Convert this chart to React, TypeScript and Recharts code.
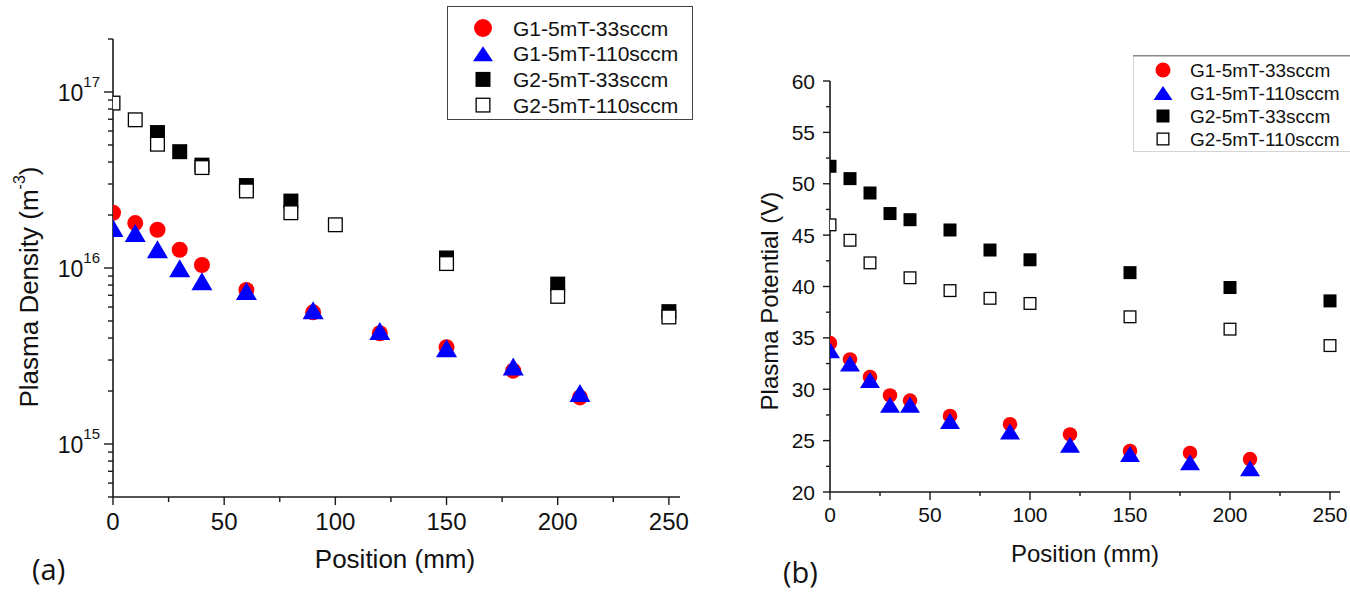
import { Legend, Scatter, ScatterChart, XAxis, YAxis } from "recharts";

const FONT = '"Liberation Sans", Arial, sans-serif';
const AXIS = "#1a1a1a";

// series (legend order)
const seriesNames = ["G1-5mT-33sccm", "G1-5mT-110sccm", "G2-5mT-33sccm", "G2-5mT-110sccm"];
const seriesMarkers = ["circle", "triangle", "square", "open"];

// positions (mm)
const g1Positions = [0, 10, 20, 30, 40, 60, 90, 120, 150, 180, 210];
const densityG2Pos33 = [20, 30, 40, 60, 80, 150, 200, 250];
const densityG2Pos110 = [0, 10, 20, 40, 60, 80, 100, 150, 200, 250];
const potentialG2Pos33 = [0, 10, 20, 30, 40, 60, 80, 100, 150, 200, 250];
const potentialG2Pos110 = [0, 10, 20, 40, 60, 80, 100, 150, 200, 250];

// (a) plasma density, m^-3
const densityG1_33 = [2.06e16, 1.8e16, 1.65e16, 1.27e16, 1.04e16, 7.5e15, 5.6e15, 4.26e15, 3.55e15, 2.61e15, 1.84e15];
const densityG1_110 = [1.69e16, 1.58e16, 1.28e16, 9.96e15, 8.4e15, 7.4e15, 5.75e15, 4.38e15, 3.5e15, 2.76e15, 1.95e15];
const densityG2_33 = [5.88e16, 4.58e16, 3.84e16, 2.94e16, 2.4e16, 1.14e16, 8.1e15, 5.65e15];
const densityG2_110 = [8.65e16, 6.95e16, 5.05e16, 3.72e16, 2.74e16, 2.06e16, 1.76e16, 1.06e16, 6.9e15, 5.27e15];

// (b) plasma potential, V
const potentialG1_33 = [34.5, 32.9, 31.2, 29.4, 28.9, 27.4, 26.6, 25.6, 24.0, 23.8, 23.2];
const potentialG1_110 = [33.8, 32.5, 30.9, 28.5, 28.5, 26.9, 25.9, 24.6, 23.7, 22.9, 22.3];
const potentialG2_33 = [51.7, 50.5, 49.1, 47.1, 46.5, 45.5, 43.55, 42.6, 41.35, 39.9, 38.6];
const potentialG2_110 = [46.0, 44.5, 42.3, 40.85, 39.6, 38.85, 38.35, 37.05, 35.85, 34.25];

// ticks
const positionTicks = [0, 25, 50, 75, 100, 125, 150, 175, 200, 225, 250];
const positionLabels = [0, 50, 100, 150, 200, 250];
const densityTicks = [
  5e14, 6e14, 7e14, 8e14, 9e14, 1e15, 2e15, 3e15, 4e15, 5e15, 6e15, 7e15, 8e15, 9e15,
  1e16, 2e16, 3e16, 4e16, 5e16, 6e16, 7e16, 8e16, 9e16, 1e17, 2e17,
];
const densityLabels = [1e15, 1e16, 1e17];
const potentialTicks = [20, 22.5, 25, 27.5, 30, 32.5, 35, 37.5, 40, 42.5, 45, 47.5, 50, 52.5, 55, 57.5, 60];
const potentialLabels = [20, 25, 30, 35, 40, 45, 50, 55, 60];

const zip = (xs: number[], ys: number[]) => xs.map((x, i) => ({ x, y: ys[i] }));

type Sizes = { circle: number; triW: number; triH: number; sq: number };

function Marker({ kind, cx, cy, s }: { kind: string; cx: number; cy: number; s: Sizes }) {
  if (cx == null || cy == null) return null;
  if (kind === "circle") return <circle cx={cx} cy={cy} r={s.circle / 2} fill="#ff0000" />;
  if (kind === "triangle") {
    const w = s.triW;
    const h = s.triH;
    return (
      <polygon
        points={`${cx},${cy - h / 2} ${cx - w / 2},${cy + h / 2} ${cx + w / 2},${cy + h / 2}`}
        fill="#0000ff"
      />
    );
  }
  if (kind === "square")
    return <rect x={cx - s.sq / 2} y={cy - s.sq / 2} width={s.sq} height={s.sq} fill="#000" />;
  return (
    <rect
      x={cx - s.sq / 2 + 0.65}
      y={cy - s.sq / 2 + 0.65}
      width={s.sq - 1.3}
      height={s.sq - 1.3}
      fill="#fff"
      stroke="#000"
      strokeWidth={1.3}
    />
  );
}

function LegendBox(props: {
  width: number;
  boxWidth: number;
  height: number;
  firstRow: number;
  rowStep: number;
  markerX: number;
  textX: number;
  fontSize: number;
  s: Sizes;
  soft?: boolean;
}) {
  const { width, boxWidth, height, firstRow, rowStep, markerX, textX, fontSize, s, soft } = props;
  return (
    <svg width={width} height={height} style={{ display: "block" }}>
      <rect
        x={0.5}
        y={0.5}
        width={boxWidth - 1}
        height={height - 1}
        fill="#fff"
        stroke={soft ? "#d4d4d4" : "#444"}
        strokeWidth={1}
      />
      {soft && <line x1={0} x2={boxWidth} y1={0.75} y2={0.75} stroke="#888" strokeWidth={1.5} />}
      {seriesNames.map((name, i) => {
        const cy = firstRow + i * rowStep;
        return (
          <g key={name}>
            <Marker kind={seriesMarkers[i]} cx={markerX} cy={cy} s={s} />
            <text x={textX} y={cy + fontSize * 0.36} fontSize={fontSize} fontFamily={FONT} fill="#111">
              {name}
            </text>
          </g>
        );
      })}
    </svg>
  );
}

function PositionTick({ x, y, payload, major, minor, fontSize, dy }: any) {
  const isMajor = positionLabels.includes(payload.value);
  return (
    <g>
      <line x1={x} x2={x} y1={y} y2={y + (isMajor ? major : minor)} stroke={AXIS} strokeWidth={1.4} />
      {isMajor && (
        <text x={x} y={y + dy} textAnchor="middle" fontSize={fontSize} fontFamily={FONT} fill="#111">
          {payload.value}
        </text>
      )}
    </g>
  );
}

function DensityTick({ x, y, payload }: any) {
  const v = payload.value;
  const isMajor = densityLabels.includes(v);
  return (
    <g>
      <line x1={x - (isMajor ? 9 : 5)} x2={x} y1={y} y2={y} stroke={AXIS} strokeWidth={1.4} />
      {isMajor && (
        <text x={x - 13} y={y + 9} textAnchor="end" fontSize={23} fontFamily={FONT} fill="#111">
          10
          <tspan dy={-14} fontSize={15}>
            {Math.round(Math.log10(v))}
          </tspan>
        </text>
      )}
    </g>
  );
}

function PotentialTick({ x, y, payload }: any) {
  const v = payload.value;
  const isMajor = potentialLabels.includes(v);
  return (
    <g>
      <line x1={x - (isMajor ? 7 : 4)} x2={x} y1={y} y2={y} stroke={AXIS} strokeWidth={1.4} />
      {isMajor && (
        <text x={x - 15} y={y + 7.5} textAnchor="end" fontSize={21} fontFamily={FONT} fill="#111">
          {v}
        </text>
      )}
    </g>
  );
}

const densitySizes: Sizes = { circle: 16, triW: 21, triH: 18, sq: 15 };
const potentialSizes: Sizes = { circle: 14.5, triW: 20, triH: 16, sq: 13 };

function DensityChart() {
  const data = [
    zip(g1Positions, densityG1_33),
    zip(g1Positions, densityG1_110),
    zip(densityG2Pos33, densityG2_33),
    zip(densityG2Pos110, densityG2_110),
  ];
  return (
    <ScatterChart width={700} height={595} margin={{ top: 39, right: 20, bottom: 58, left: 23 }}>
      <XAxis
        type="number"
        dataKey="x"
        domain={[0, 255]}
        ticks={positionTicks}
        interval={0}
        height={40}
        tickSize={0}
        tickMargin={0}
        tickLine={false}
        axisLine={{ stroke: AXIS, strokeWidth: 1.6 }}
        tick={(p: any) => <PositionTick {...p} major={8} minor={5} fontSize={24} dy={33} />}
        allowDataOverflow
      />
      <YAxis
        type="number"
        dataKey="y"
        scale="log"
        domain={[5e14, 2e17]}
        ticks={densityTicks}
        interval={0}
        width={90}
        tickSize={0}
        tickMargin={0}
        tickLine={false}
        axisLine={{ stroke: AXIS, strokeWidth: 1.6 }}
        tick={(p: any) => <DensityTick {...p} />}
        allowDataOverflow
      />
      <Legend
        layout="vertical"
        align="center"
        verticalAlign="middle"
        wrapperStyle={{ left: 447, top: 6, width: 246 }}
        content={() => (
          <LegendBox
            width={246}
            boxWidth={246}
            height={114}
            firstRow={22}
            rowStep={25.7}
            markerX={36}
            textX={66}
            fontSize={21}
            s={{ circle: 18, triW: 20, triH: 15, sq: 15 }}
          />
        )}
      />
      {seriesNames.map((name, i) => (
        <Scatter
          key={name}
          name={name}
          data={data[i]}
          isAnimationActive={false}
          shape={(p: any) => <Marker kind={seriesMarkers[i]} cx={p.cx} cy={p.cy} s={densitySizes} />}
        />
      ))}
    </ScatterChart>
  );
}

function PotentialChart() {
  const data = [
    zip(g1Positions, potentialG1_33),
    zip(g1Positions, potentialG1_110),
    zip(potentialG2Pos33, potentialG2_33),
    zip(potentialG2Pos110, potentialG2_110),
  ];
  return (
    <ScatterChart width={650} height={595} margin={{ top: 81, right: 10, bottom: 63, left: 40 }}>
      <XAxis
        type="number"
        dataKey="x"
        domain={[0, 255]}
        ticks={positionTicks}
        interval={0}
        height={40}
        tickSize={0}
        tickMargin={0}
        tickLine={false}
        axisLine={{ stroke: AXIS, strokeWidth: 1.6 }}
        tick={(p: any) => <PositionTick {...p} major={8} minor={4} fontSize={21} dy={30} />}
        allowDataOverflow
      />
      <YAxis
        type="number"
        dataKey="y"
        domain={[20, 60]}
        ticks={potentialTicks}
        interval={0}
        width={90}
        tickSize={0}
        tickMargin={0}
        tickLine={false}
        axisLine={{ stroke: AXIS, strokeWidth: 1.6 }}
        tick={(p: any) => <PotentialTick {...p} />}
        allowDataOverflow
      />
      <Legend
        layout="vertical"
        align="center"
        verticalAlign="middle"
        wrapperStyle={{ left: 433, top: 55, width: 217 }}
        content={() => (
          <LegendBox
            width={217}
            boxWidth={240}
            height={97}
            firstRow={15}
            rowStep={23}
            markerX={30}
            textX={57}
            fontSize={19}
            s={{ circle: 15, triW: 19, triH: 14, sq: 13 }}
            soft
          />
        )}
      />
      {seriesNames.map((name, i) => (
        <Scatter
          key={name}
          name={name}
          data={data[i]}
          isAnimationActive={false}
          shape={(p: any) => <Marker kind={seriesMarkers[i]} cx={p.cx} cy={p.cy} s={potentialSizes} />}
        />
      ))}
    </ScatterChart>
  );
}

export default function App() {
  return (
    <div style={{ position: "absolute", left: 0, top: 0, width: 1350, height: 595, background: "#fff", overflow: "hidden" }}>
      <div style={{ position: "absolute", left: 0, top: 0 }}>
        <DensityChart />
      </div>
      <div style={{ position: "absolute", left: 700, top: 0 }}>
        <PotentialChart />
      </div>
      <svg width={1350} height={595} style={{ position: "absolute", left: 0, top: 0, pointerEvents: "none" }}>
        <g fontFamily={FONT} fill="#111">
          <text x={29} y={287} transform="rotate(-90 29 287)" textAnchor="middle" dominantBaseline="central" fontSize={26}>
            Plasma Density (m
            <tspan dy={-10} fontSize={16}>-3</tspan>
            <tspan dy={10}>)</tspan>
          </text>
          <text x={395} y={568} textAnchor="middle" fontSize={26}>
            Position (mm)
          </text>
          <text x={769} y={301} transform="rotate(-90 769 301)" textAnchor="middle" dominantBaseline="central" fontSize={24}>
            Plasma Potential (V)
          </text>
          <text x={1085} y={562} textAnchor="middle" fontSize={24}>
            Position (mm)
          </text>
        </g>
        <g fontFamily='"Open Sans", "Noto Sans", sans-serif' fill="#111" fontSize={29}>
          <text x={32} y={580}>(a)</text>
          <text x={783} y={583}>(b)</text>
        </g>
      </svg>
    </div>
  );
}
